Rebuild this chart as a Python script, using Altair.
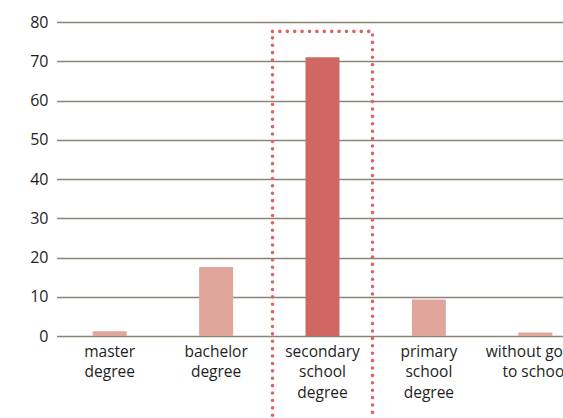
import altair as alt
import pandas as pd

categories = ["master\ndegree", "bachelor\ndegree", "secondary\nschool\ndegree",
              "primary\nschool\ndegree", "without going\nto school"]
values = [1.2, 17.6, 71.0, 9.3, 0.9]
highlight = ["no", "no", "yes", "no", "no"]
y_ticks = [0, 10, 20, 30, 40, 50, 60, 70, 80]

df = pd.DataFrame({"cat": categories, "value": values, "hl": highlight})
box_df = pd.DataFrame({"cat": ["secondary\nschool\ndegree"], "top": [77.6], "bottom": [-25]})

FONT = "Open Sans"

x_scale = alt.Scale(domain=categories, range=[-1.5, 530.5], paddingInner=0, paddingOuter=0)
y_scale = alt.Scale(domain=[0, 80], nice=False)

bars = alt.Chart(df).mark_bar(size=34).encode(
    x=alt.X("cat:N", sort=categories, title=None, scale=x_scale,
            axis=alt.Axis(labelAngle=0, domain=False, ticks=False, labelPadding=8,
                          labelExpr="split(datum.label, '\\n')", labelLineHeight=20.5,
                          labelFont=FONT, labelFontSize=15.5, labelColor="#1e1e1e",
                          labelBaseline="top", labelLimit=0, labelOverlap=False)),
    y=alt.Y("value:Q", title=None, scale=y_scale,
            axis=alt.Axis(values=y_ticks, domain=False, ticks=False, labelPadding=10,
                          labelFont=FONT, labelFontSize=16, labelColor="#1e1e1e",
                          labelOverlap=False,
                          gridColor="#8a8579", gridWidth=1.5, gridOpacity=1)),
    color=alt.Color("hl:N", legend=None,
                    scale=alt.Scale(domain=["no", "yes"], range=["#e0a69c", "#cf6862"])),
)

box = alt.Chart(box_df).mark_bar(size=100, fill=None, fillOpacity=0, stroke="#de6464",
                                 strokeWidth=3.6, strokeDash=[0, 7.4], strokeCap="round",
                                 clip=False).encode(
    x=alt.X("cat:N", sort=categories, scale=x_scale, axis=None),
    y=alt.Y("top:Q", scale=y_scale, axis=None),
    y2="bottom:Q",
)

chart = alt.layer(bars, box).resolve_axis(x="independent", y="independent").properties(
    width=505, height=314,
    autosize=alt.AutoSizeParams(type="none"),
    padding={"left": 58, "top": 22, "right": 0, "bottom": 82},
).configure_view(stroke=None)

chart.save("out.html", embed_options={"renderer": "svg", "actions": False})
